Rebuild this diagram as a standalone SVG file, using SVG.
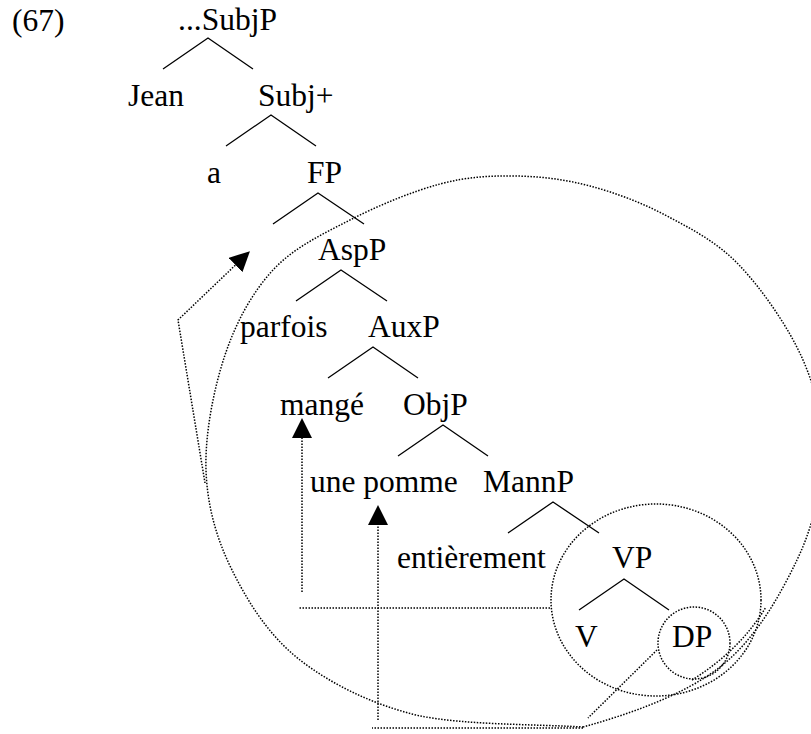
<svg xmlns="http://www.w3.org/2000/svg" width="811" height="734" viewBox="0 0 811 734">
  <style>
    text { font-family: "Liberation Serif", "Times New Roman", serif; font-size: 31.5px; fill: #000; }
    .branch { fill: none; stroke: #000; stroke-width: 1.3; }
    .dot { fill: none; stroke: #000; stroke-width: 1.5; stroke-dasharray: 1.5 1.5; }
  </style>
  <defs>
    <marker id="head" markerUnits="userSpaceOnUse" markerWidth="20" markerHeight="20" refX="0" refY="10" orient="auto">
      <path d="M0,0 L20,10 L0,20 z" fill="#000"/>
    </marker>
  </defs>

  <rect width="811" height="734" fill="#fff"/>

  <!-- example number -->
  <text x="12" y="31">(67)</text>

  <g id="connectors">
    <!-- tree branches -->
    <path class="branch" d="M163,69 L208,38 L253,69"/>
    <path class="branch" d="M226,146 L271,115 L316,146"/>
    <path class="branch" d="M273,224 L318,193 L364,224"/>
    <path class="branch" d="M296,301 L341,270 L387,301"/>
    <path class="branch" d="M328,378 L373,347 L418,378"/>
    <path class="branch" d="M398,456 L443,425 L488,456"/>
    <path class="branch" d="M508,533 L553,502 L599,533"/>
    <path class="branch" d="M579,610 L624,579 L669,610"/>

    <!-- enclosing loops -->
    <path class="dot" d="M583,727 C630,714 684.3,694.8 720,667 C755.7,639.2 780,595.3 797,560 C814,524.7 821,488.3 822,455 C823,421.7 816.7,391.5 803,360 C789.3,328.5 762.7,290 740,266 C717.3,242 692,229.3 667,216 C642,202.7 615.3,192.7 590,186 C564.7,179.3 540,176.3 515,176 C490,175.7 467.5,176.7 440,184 C412.5,191.3 377.8,205.7 350,220 C322.2,234.3 293.8,247.5 273,270 C252.2,292.5 236.2,321.7 225,355 C213.8,388.3 204.8,434.2 206,470 C207.2,505.8 216.3,538.3 232,570 C247.7,601.7 268.7,635.7 300,660 C331.3,684.3 372.8,704.8 420,716 C467,725 529,724 583,727"/>
    <path class="dot" d="M692,680 Q740,650 766,607"/>
    <ellipse class="dot" cx="656" cy="600" rx="105" ry="96"/>
    <circle class="dot" cx="694" cy="643" r="36"/>

    <!-- movement paths -->
    <path class="dot" d="M205,483 L178,320 L235.5,265" marker-end="url(#head)"/>
    <path class="dot" d="M550,608 L298,608"/>
    <path class="dot" d="M302,592 L302,438" marker-end="url(#head)"/>
    <path class="dot" d="M657,650 L588,718"/>
    <path class="dot" d="M583,728 L372,728"/>
    <path class="dot" d="M378,720 L378,525" marker-end="url(#head)"/>
  </g>

  <g id="node-subjp"><text x="178" y="30">...SubjP</text></g>
  <g id="node-jean"><text x="128" y="106">Jean</text></g>
  <g id="node-subj-plus"><text x="258" y="106">Subj+</text></g>
  <g id="node-a"><text x="207" y="183">a</text></g>
  <g id="node-fp"><text x="307" y="183">FP</text></g>
  <g id="node-aspp"><text x="318" y="260">AspP</text></g>
  <g id="node-parfois"><text x="240" y="337">parfois</text></g>
  <g id="node-auxp"><text x="368" y="337">AuxP</text></g>
  <g id="node-mange"><text x="280" y="415">mangé</text></g>
  <g id="node-objp"><text x="403" y="415">ObjP</text></g>
  <g id="node-une-pomme"><text x="310" y="492">une pomme</text></g>
  <g id="node-mannp"><text x="483" y="492">MannP</text></g>
  <g id="node-entierement"><text x="397" y="568">entièrement</text></g>
  <g id="node-vp"><text x="612" y="568">VP</text></g>
  <g id="node-v"><text x="575" y="647">V</text></g>
  <g id="node-dp"><text x="672" y="647">DP</text></g>
</svg>
